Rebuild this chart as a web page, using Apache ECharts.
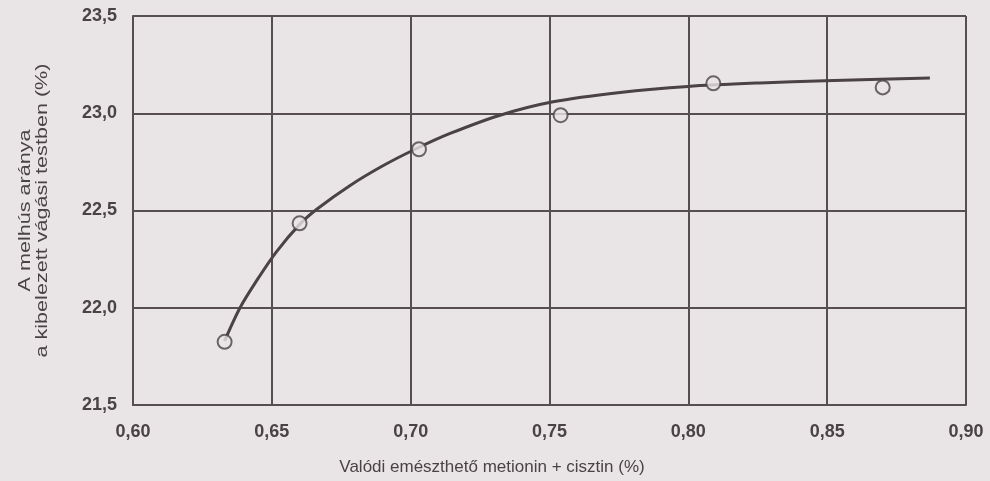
<!DOCTYPE html>
<html>
<head>
<meta charset="utf-8">
<script src="https://cdn.jsdelivr.net/npm/echarts@6/dist/echarts.min.js"></script>
<style>
html,body{margin:0;padding:0;background:#e9e5e7;}
#c{width:990px;height:481px;}
</style>
</head>
<body>
<div id="c"></div>
<script>
// Measured data points (x: % digestible Met+Cys, y: % breast meat)
var pointX = [0.633, 0.660, 0.703, 0.754, 0.809, 0.870];
var pointY = [21.825, 22.434, 22.815, 22.99, 23.154, 23.133];
// Fitted curve
var curveX = [0.633, 0.6385, 0.6447, 0.6515, 0.6601, 0.6663, 0.6782, 0.690, 0.7016,
              0.7142, 0.7322, 0.7513, 0.7754, 0.7999, 0.8258, 0.8492, 0.887];
var curveY = [21.83, 21.999, 22.143, 22.285, 22.43, 22.508, 22.629, 22.730, 22.815,
              22.896, 22.990, 23.059, 23.107, 23.138, 23.156, 23.167, 23.181];
// Axis ticks
var xTicks = [0.60, 0.65, 0.70, 0.75, 0.80, 0.85, 0.90];
var yTicks = [21.5, 22.0, 22.5, 23.0, 23.5];
// Texts
var xTitle = 'Valódi emészthető metionin + cisztin (%)';
var yTitle = 'A melhús aránya\na kibelezett vágási testben (%)';

var ink = '#564e50';
var textInk = '#4a4345';
var paper = '#e9e5e7';
var font = "'Liberation Sans', Arial, sans-serif";

var chart = echarts.init(document.getElementById('c'));
chart.setOption({
  backgroundColor: paper,
  animation: false,
  grid: {left: 133, right: 24, top: 16, bottom: 76, show: false},
  graphic: [{
    type: 'text',
    x: 34, y: 210.5,
    rotation: Math.PI / 2,
    scaleX: 1.27,
    style: {
      text: yTitle,
      fill: textInk,
      font: '17px ' + font,
      lineHeight: 17,
      textAlign: 'center',
      textVerticalAlign: 'middle'
    }
  }],
  xAxis: {
    type: 'value',
    min: xTicks[0], max: xTicks[xTicks.length - 1], interval: 0.05,
    name: xTitle,
    nameLocation: 'middle', nameGap: 54,
    nameTextStyle: {color: textInk, fontFamily: font, fontSize: 17, padding: [0, 115, 0, 0]},
    axisLine: {show: true, lineStyle: {color: ink, width: 2}},
    axisTick: {show: false},
    splitLine: {show: true, lineStyle: {color: ink, width: 2}},
    axisLabel: {
      color: textInk, fontFamily: font, fontSize: 18, fontWeight: 'bold', margin: 18,
      formatter: function (v) { return v.toFixed(2).replace('.', ','); }
    }
  },
  yAxis: {
    type: 'value',
    min: yTicks[0], max: yTicks[yTicks.length - 1], interval: 0.5,
    axisLine: {show: true, lineStyle: {color: ink, width: 2}},
    axisTick: {show: false},
    splitLine: {show: true, lineStyle: {color: ink, width: 2}},
    axisLabel: {
      color: textInk, fontFamily: font, fontSize: 18, fontWeight: 'bold', margin: 16,
      formatter: function (v) { return v.toFixed(1).replace('.', ','); }
    }
  },
  series: [
    {
      type: 'line',
      data: curveX.map(function (x, i) { return [x, curveY[i]]; }),
      smooth: 0.3,
      showSymbol: false,
      lineStyle: {color: '#4a4244', width: 3},
      z: 3
    },
    {
      type: 'scatter',
      data: pointX.map(function (x, i) { return [x, pointY[i]]; }),
      symbol: 'circle',
      symbolSize: 14,
      itemStyle: {color: paper, borderColor: '#4a4244', borderWidth: 2},
      z: 4
    }
  ]
});
</script>
</body>
</html>
